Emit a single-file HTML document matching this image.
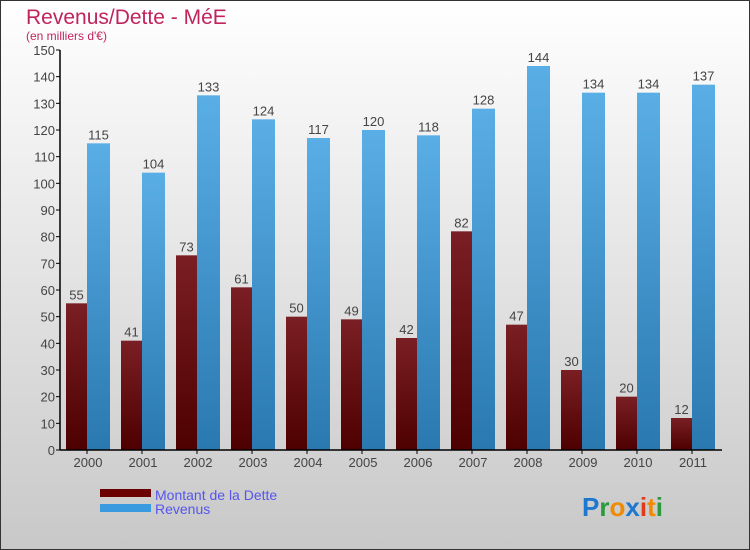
<!DOCTYPE html>
<html><head><meta charset="utf-8"><style>
body{margin:0;width:750px;height:550px;overflow:hidden}
svg{display:block;font-family:"Liberation Sans",sans-serif}
</style></head><body>
<svg id="chart" width="750" height="550">
<defs>
<linearGradient id="bg" x1="0" y1="0" x2="0" y2="1"><stop offset="0" stop-color="#ffffff"/><stop offset="1" stop-color="#c8c8c8"/></linearGradient>
<linearGradient id="gd" x1="0" y1="0" x2="0" y2="1"><stop offset="0" stop-color="#7a1f24"/><stop offset="1" stop-color="#4e0000"/></linearGradient>
<linearGradient id="gr" x1="0" y1="0" x2="0" y2="1"><stop offset="0" stop-color="#5aaee6"/><stop offset="1" stop-color="#2a78b0"/></linearGradient>
</defs>
<rect x="0.5" y="0.5" width="749" height="549" fill="url(#bg)" stroke="#333"/>
<text x="26" y="24" font-size="21" fill="#c0245c">Revenus/Dette - MéE</text>
<text x="26" y="40" font-size="12" fill="#c0245c">(en milliers d'€)</text>
<g id="plot"></g>
<g>
<rect x="100" y="489" width="51" height="8" fill="#6a0000"/>
<text x="155" y="500" font-size="14" fill="#5555ee">Montant de la Dette</text>
<rect x="100" y="504" width="51" height="8" fill="#3a9ae0"/>
<text x="155" y="514" font-size="14" fill="#5555ee">Revenus</text>
</g>
<text x="582" y="516" font-size="26" font-weight="bold"><tspan fill="#1e78d0">P</tspan><tspan fill="#2a9a3a">r</tspan><tspan fill="#f08a00">o</tspan><tspan fill="#1e78d0">x</tspan><tspan fill="#e03a1a">i</tspan><tspan fill="#f08a00">t</tspan><tspan fill="#2a9a3a">i</tspan></text>
</svg>
<script>
const years=["2000","2001","2002","2003","2004","2005","2006","2007","2008","2009","2010","2011"];
const dette=[55,41,73,61,50,49,42,82,47,30,20,12];
const revenus=[115,104,133,124,117,120,118,128,144,134,134,137];
const yTicks=[0,10,20,30,40,50,60,70,80,90,100,110,120,130,140,150];
const NS="http://www.w3.org/2000/svg";
const g=document.getElementById('plot');
const y0=450,yTop=50,yMax=150,x0=60,step=55;
const yS=v=>y0-(v/yMax)*(y0-yTop);
const xG=i=>x0+step*i;
function mk(t,a){const e=document.createElementNS(NS,t);for(const k in a)e.setAttribute(k,a[k]);g.appendChild(e);return e;}
yTicks.forEach(v=>{
 const l=mk('line',{x1:x0-4,x2:x0,y1:yS(v),y2:yS(v),stroke:'#000'});
 
 
 const t=mk('text',{x:x0-5,y:yS(v)+5,'text-anchor':'end','font-size':13,fill:'#444'});
 t.textContent=v;
 
 
});
years.forEach((yr,i)=>{
 const gx=xG(i);
 const b1=mk('rect',{x:gx+6,y:yS(dette[i]),width:21,height:y0-yS(dette[i]),fill:'url(#gd)'});
 
 
 const b2=mk('rect',{x:gx+27,y:yS(revenus[i]),width:23,height:y0-yS(revenus[i]),fill:'url(#gr)'});
 
 
 const t1=mk('text',{x:gx+16.5,y:yS(dette[i])-4,'text-anchor':'middle','font-size':13,fill:'#444'});
 t1.textContent=dette[i];
 
 
 const t2=mk('text',{x:gx+38.5,y:yS(revenus[i])-4,'text-anchor':'middle','font-size':13,fill:'#444'});
 t2.textContent=revenus[i];
 
 
 const tk=mk('line',{x1:gx+27,x2:gx+27,y1:y0,y2:y0+4,stroke:'#000'});
 
 
 const xl=mk('text',{x:gx+28,y:y0+17,'text-anchor':'middle','font-size':13,fill:'#444'});
 xl.textContent=yr;
 
 
});
const ax=mk('line',{x1:x0,x2:x0,y1:yTop,y2:y0,stroke:'#000','stroke-width':1.5});


const bx=mk('line',{x1:x0,x2:722,y1:y0,y2:y0,stroke:'#000','stroke-width':1.5});


</script>
</body></html>
